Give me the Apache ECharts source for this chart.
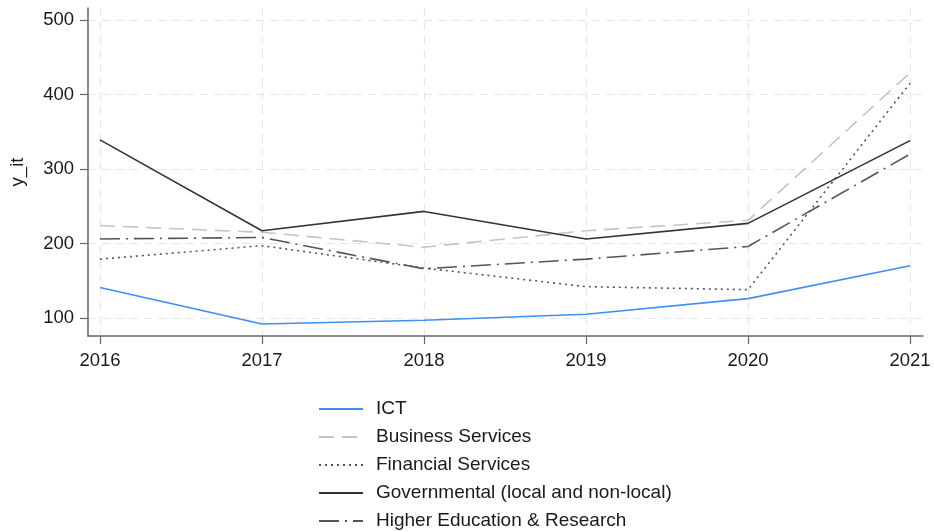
<!DOCTYPE html>
<html>
<head>
<meta charset="utf-8">
<script src="https://cdn.jsdelivr.net/npm/echarts@6/dist/echarts.min.js"></script>
<style>html,body{margin:0;padding:0;background:#fff}#c{width:934px;height:532px}</style>
</head>
<body>
<div id="c"></div>
<script>
var years = [2016, 2017, 2018, 2019, 2020, 2021];
var yTicks = [100, 200, 300, 400, 500];
var ict = [141, 92, 97, 105, 126, 170];
var business = [224, 215, 195, 217, 231, 429];
var financial = [179, 197, 167, 142, 138, 415];
var governmental = [339, 217, 243, 206, 227, 338];
var higherEd = [206, 208, 166, 179, 196, 320];

function pairs(vals) { return years.map(function (y, i) { return [y, vals[i]]; }); }

var font = 'Liberation Sans, Arial, sans-serif';
var chart = echarts.init(document.getElementById('c'));
chart.setOption({
  animation: false,
  grid: { left: 88, right: 11, top: 8, bottom: 196, containLabel: false },
  xAxis: {
    type: 'value', min: 2015.926, max: 2021.08,
    axisLine: { show: true, lineStyle: { color: '#666', width: 1.5 } },
    axisTick: { show: true, length: 8, customValues: years, lineStyle: { color: '#666', width: 1.2 } },
    axisLabel: { customValues: years, formatter: function (v) { return String(v); }, color: '#1a1a1a', fontSize: 18.5, fontFamily: font, margin: 15 },
    splitLine: { show: true, lineStyle: { color: '#e6e6e6', type: [8, 6], width: 1.2 } }
  },
  yAxis: {
    type: 'value', min: 75.8, max: 516,
    name: 'y_it', nameLocation: 'middle', nameGap: 61, nameRotate: 90,
    nameTextStyle: { color: '#1a1a1a', fontSize: 18.5, fontFamily: font },
    axisLine: { show: true, lineStyle: { color: '#666', width: 1.5 } },
    axisTick: { show: true, length: 8, customValues: yTicks, lineStyle: { color: '#666', width: 1.2 } },
    axisLabel: { customValues: yTicks, color: '#1a1a1a', fontSize: 18.5, fontFamily: font, margin: 14 },
    splitLine: { show: true, lineStyle: { color: '#e6e6e6', type: [8, 6], width: 1.2 } }
  },
  legend: {
    orient: 'vertical', left: 313, top: 394, height: 140,
    itemWidth: 44, itemHeight: 14, itemGap: 8,
    itemStyle: { opacity: 0 },
    textStyle: { color: '#1a1a1a', fontSize: 19, fontFamily: font, lineHeight: 20, padding: [0, 0, 0, 8] },
    data: ['ICT', 'Business Services', 'Financial Services', 'Governmental (local and non-local)', 'Higher Education & Research']
  },
  series: [
    { name: 'ICT', type: 'line', symbol: 'none', data: pairs(ict), lineStyle: { color: '#3d8ff5', width: 1.6 }, itemStyle: { color: '#3d8ff5' } },
    { name: 'Business Services', type: 'line', symbol: 'none', data: pairs(business), lineStyle: { color: '#c4c4c4', width: 1.6, type: [15, 8] }, itemStyle: { color: '#c4c4c4' } },
    { name: 'Financial Services', type: 'line', symbol: 'none', data: pairs(financial), lineStyle: { color: '#555', width: 1.6, type: [2, 4] }, itemStyle: { color: '#555' } },
    { name: 'Governmental (local and non-local)', type: 'line', symbol: 'none', data: pairs(governmental), lineStyle: { color: '#333', width: 1.6 }, itemStyle: { color: '#333' } },
    { name: 'Higher Education & Research', type: 'line', symbol: 'none', data: pairs(higherEd), lineStyle: { color: '#555', width: 1.6, type: [20, 6, 2, 6] }, itemStyle: { color: '#555' } }
  ]
});
</script>
</body>
</html>
